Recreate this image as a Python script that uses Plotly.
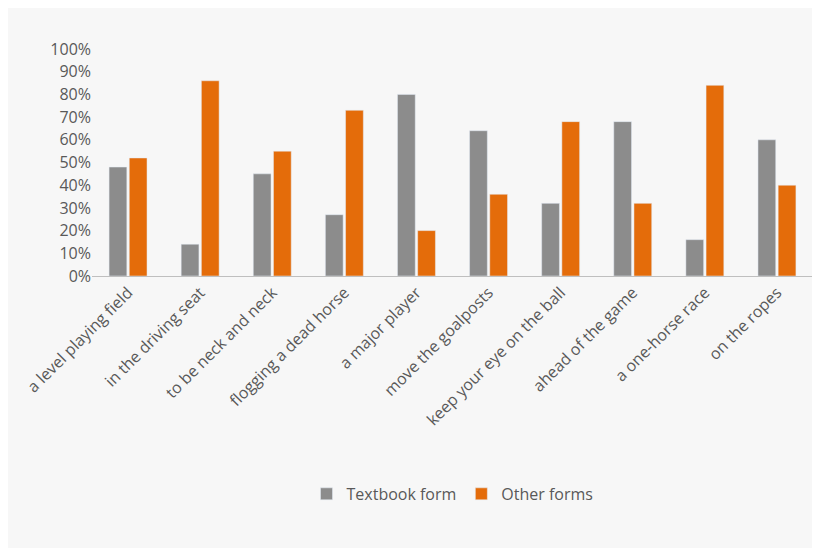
import plotly.graph_objects as go

categories = ["a level playing field", "in the driving seat", "to be neck and neck",
              "flogging a dead horse", "a major player", "move the goalposts",
              "keep your eye on the ball", "ahead of the game", "a one-horse race",
              "on the ropes"]
textbook = [0.48, 0.14, 0.45, 0.27, 0.80, 0.64, 0.32, 0.68, 0.16, 0.60]
other = [0.52, 0.86, 0.55, 0.73, 0.20, 0.36, 0.68, 0.32, 0.84, 0.40]

fig = go.Figure()
fig.add_trace(go.Bar(x=categories, y=textbook, name="Textbook form", marker_color="#8c8c8c"))
fig.add_trace(go.Bar(x=categories, y=other, name="Other forms", marker_color="#e46c0a"))

fig.update_layout(
    width=820, height=548,
    paper_bgcolor="#f7f7f7", plot_bgcolor="#f7f7f7",
    font=dict(family="Open Sans", size=16, color="#595959"),
    margin=dict(l=84, r=15, t=41, b=280),
    bargap=0.44, bargroupgap=0.12,
    yaxis=dict(range=[0, 1], dtick=0.1, tickformat=".0%", showgrid=False,
               zeroline=False, ticks="", tickfont=dict(size=16)),
    xaxis=dict(tickangle=-45, showline=True, linecolor="#bfbfbf", linewidth=1,
               tickfont=dict(size=16)),
    legend=dict(orientation="h", x=0.5, xanchor="center", y=-0.96, yanchor="middle",
                font=dict(size=16)),
)

fig.write_html("out.html")
